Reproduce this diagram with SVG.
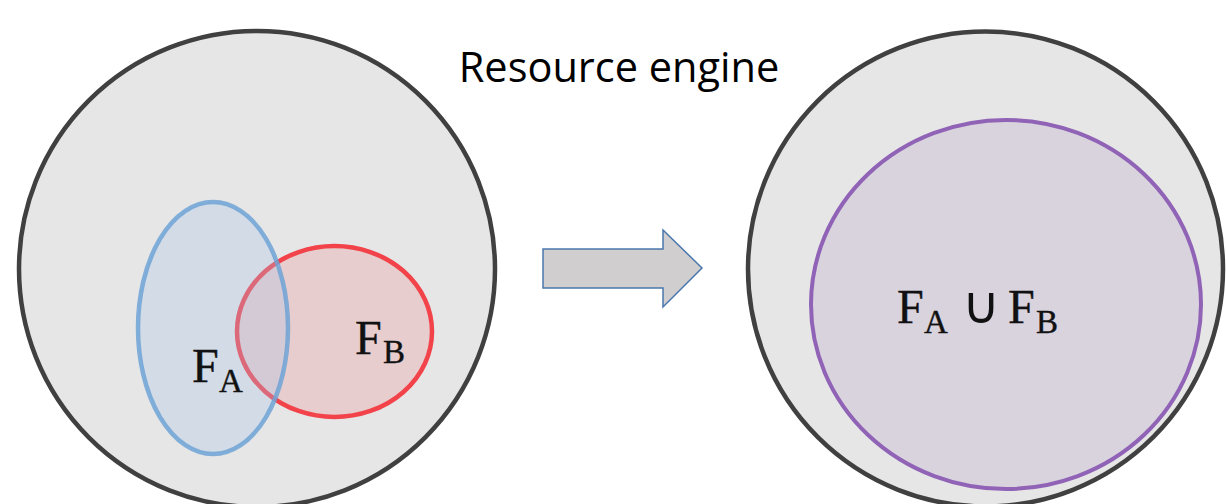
<svg xmlns="http://www.w3.org/2000/svg" width="1226" height="504" viewBox="0 0 1226 504">
  <style>
    .engine { fill: #e6e6e6; stroke: #404040; stroke-width: 4.5; }
    .title { font-family: "Open Sans", "Liberation Sans", sans-serif; font-size: 41.5px; fill: #000; }
    .math { font-family: "Liberation Serif", "DejaVu Serif", serif; font-size: 48px; fill: #111; stroke: #111; stroke-width: 0.4; }
    .sub { font-size: 33px; }
    .cup { font-family: "DejaVu Sans", sans-serif; font-size: 52px; stroke-width: 0; }
  </style>
  <rect width="1226" height="504" fill="#ffffff"/>

  <!-- left engine with two overlapping feature sets -->
  <g id="engine-left">
    <circle class="engine" cx="257" cy="269" r="238"/>
  </g>
  <g id="set-b">
    <ellipse cx="334.5" cy="331.5" rx="97.5" ry="85.5" fill="#f06060" fill-opacity="0.18" stroke="#f2434a" stroke-width="4.5"/>
    <text class="math" x="355" y="354">F<tspan class="sub" x="383" y="363">B</tspan></text>
  </g>
  <g id="set-a">
    <ellipse cx="213" cy="328" rx="75" ry="126" fill="#a8c4e8" fill-opacity="0.3" stroke="#6fa3d6" stroke-opacity="0.85" stroke-width="4.5"/>
    <text class="math" x="192" y="382">F<tspan class="sub" x="219" y="392">A</tspan></text>
  </g>

  <!-- title -->
  <g id="title">
    <text class="title" x="619" y="82" text-anchor="middle">Resource engine</text>
  </g>

  <!-- transition arrow -->
  <g id="connectors">
    <path d="M543,249 L663,249 L663,230 L702,268 L663,307 L663,288 L543,288 Z" fill="#d0cece" stroke="#4a78ad" stroke-width="1.5" stroke-linejoin="miter"/>
  </g>

  <!-- right engine with merged set -->
  <g id="engine-right">
    <circle class="engine" cx="985.5" cy="269" r="237.5"/>
  </g>
  <g id="set-union">
    <ellipse cx="1006" cy="304.5" rx="195" ry="184.5" fill="#d9d3de" stroke="#9063b6" stroke-width="4"/>
    <text class="math" x="897" y="323">F<tspan class="sub" x="924" y="333">A</tspan><tspan class="cup" x="962" y="323">∪</tspan><tspan x="1008" y="323">F</tspan><tspan class="sub" x="1036" y="333">B</tspan></text>
  </g>
</svg>
